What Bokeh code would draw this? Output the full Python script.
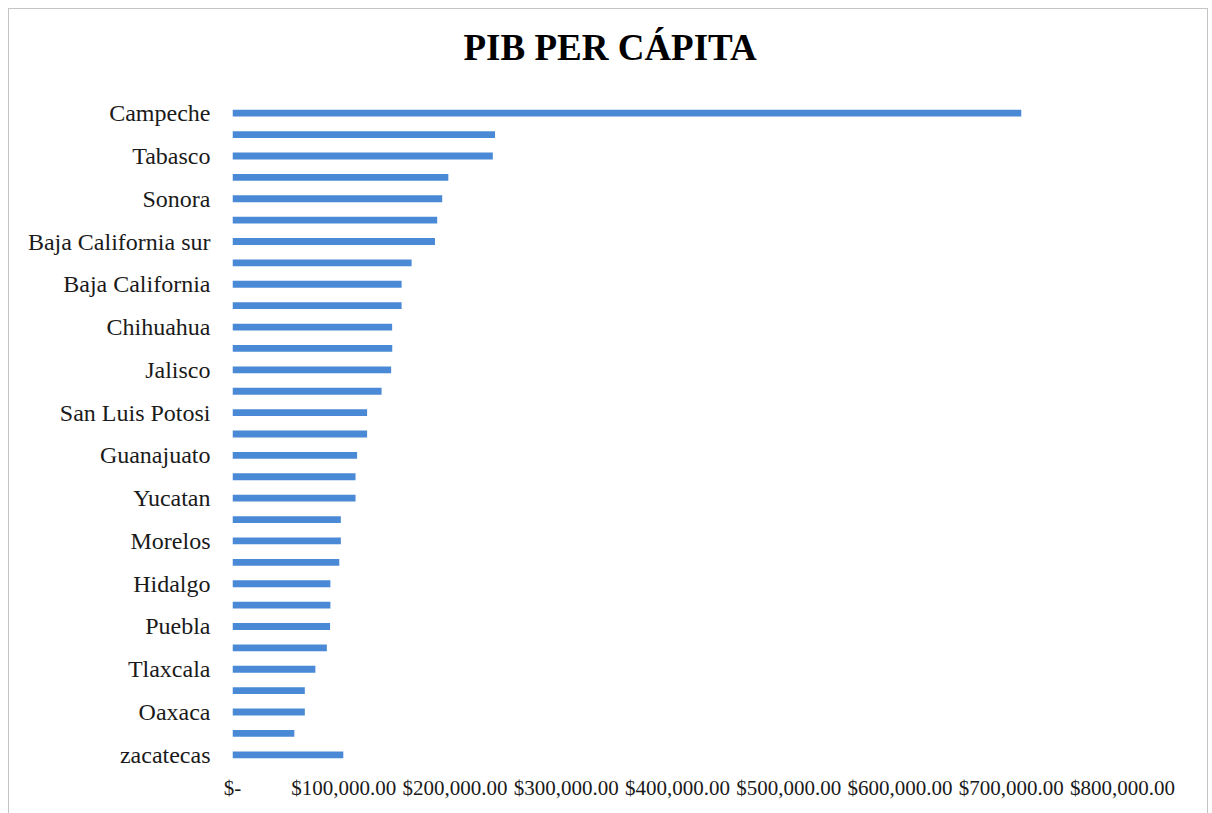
from bokeh.plotting import figure
from bokeh.models import Range1d, FixedTicker, Title
from bokeh.embed import file_html
from bokeh.resources import INLINE

# States listed from top to bottom (only every other one is labelled in the original)
states = [
    "Campeche", "Ciudad de México", "Tabasco", "Nuevo León", "Sonora", "Coahuila",
    "Baja California sur", "Querétaro", "Baja California", "Aguascalientes",
    "Chihuahua", "Colima", "Jalisco", "Tamaulipas", "San Luis Potosi",
    "Quintana Roo", "Guanajuato", "Sinaloa", "Yucatan", "Durango", "Morelos",
    "Estado de México", "Hidalgo", "Veracruz", "Puebla", "Nayarit", "Tlaxcala",
    "Michoacán", "Oaxaca", "Guerrero", "zacatecas",
]
pib = [
    709000, 236000, 234000, 194000, 188500, 184000,
    182000, 161000, 152000, 152000,
    143500, 143600, 142600, 134000, 121000,
    121000, 112000, 110600, 110600, 97400, 97400,
    96000, 88000, 88000, 87700, 84800, 74500,
    65000, 65000, 55600, 99600,
]
shown_labels = [
    "Campeche", "Tabasco", "Sonora", "Baja California sur", "Baja California",
    "Chihuahua", "Jalisco", "San Luis Potosi", "Guanajuato", "Yucatan",
    "Morelos", "Hidalgo", "Puebla", "Tlaxcala", "Oaxaca", "zacatecas",
]
x_ticks = [0, 100000, 200000, 300000, 400000, 500000, 600000, 700000, 800000]
x_labels = ["$-", "$100,000.00", "$200,000.00", "$300,000.00", "$400,000.00",
            "$500,000.00", "$600,000.00", "$700,000.00", "$800,000.00"]
title_text = "PIB PER CÁPITA"

n = len(states)
ypos = [n - i for i in range(n)]

p = figure(width=1200, height=806, output_backend="svg", toolbar_location=None,
           x_range=Range1d(0, 800000), y_range=Range1d(0.5, n + 0.5),
           min_border_left=223, min_border_right=87, min_border_top=93,
           min_border_bottom=50)
p.title = Title(text=title_text, align="left", offset=231,
                text_font="Liberation Serif", text_font_size="37px",
                text_font_style="bold", text_color="#000000", standoff=30)
# thin spacer between the frame and the title, so the title sits higher
p.add_layout(Title(text=" ", text_font_size="1px", standoff=17), "above")

p.hbar(y=ypos, right=pib, left=0, height=0.32, fill_color="#4a89d6",
       line_color=None)

p.xgrid.visible = False
p.ygrid.visible = False
p.outline_line_color = None
p.background_fill_color = "white"
p.border_fill_color = "white"
p.styles = {"border": "1px solid #c4c4c4", "margin-left": "8px", "margin-top": "8px"}

xa = p.xaxis[0]
xa.ticker = FixedTicker(ticks=x_ticks)
xa.major_label_overrides = {t: l for t, l in zip(x_ticks, x_labels)}
xa.axis_line_color = None
xa.major_tick_line_color = None
xa.minor_tick_line_color = None
xa.major_label_text_font = "Liberation Serif"
xa.major_label_text_font_size = "21px"
xa.major_label_text_color = "#1a1a1a"
xa.major_label_standoff = 4

ya = p.yaxis[0]
label_pos = [ypos[states.index(s)] for s in shown_labels]
ya.ticker = FixedTicker(ticks=label_pos)
ya.major_label_overrides = {yv: s for yv, s in zip(label_pos, shown_labels)}
ya.axis_line_color = None
ya.major_tick_line_color = None
ya.minor_tick_line_color = None
ya.major_label_text_font = "Liberation Serif"
ya.major_label_text_font_size = "24px"
ya.major_label_text_color = "#1a1a1a"
ya.major_label_standoff = 16

open("out.html", "w").write(file_html(p, INLINE))
